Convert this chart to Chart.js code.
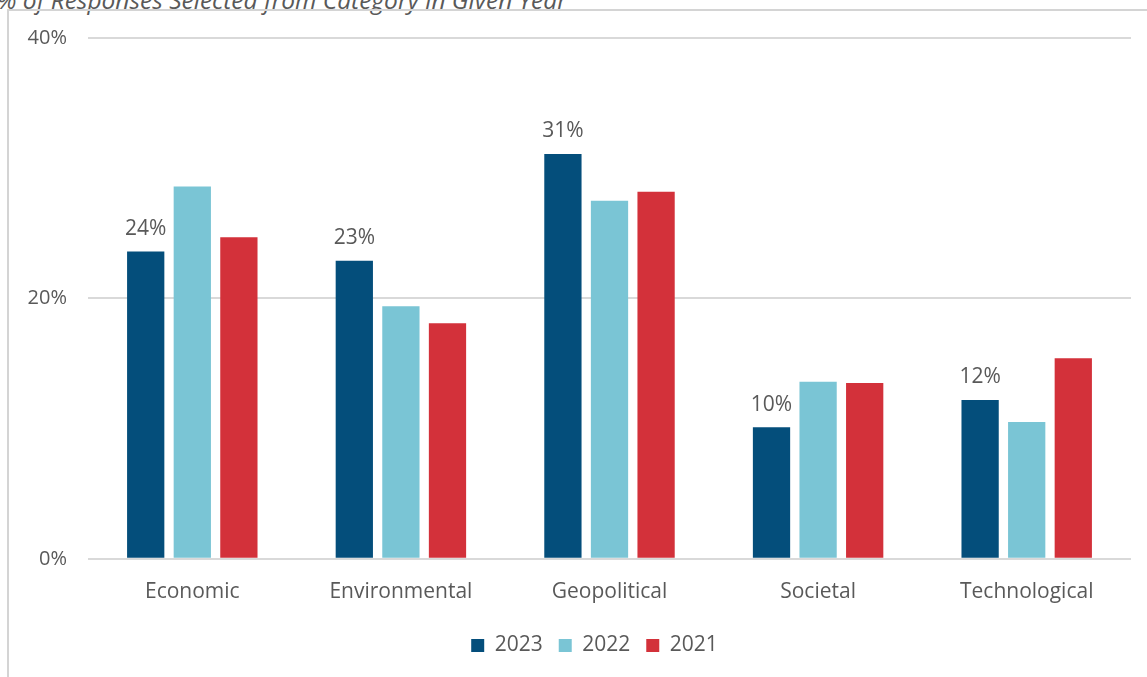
<!DOCTYPE html>
<html>
<head>
<meta charset="utf-8">
<script src="https://cdn.jsdelivr.net/npm/chart.js@4/dist/chart.umd.min.js"></script>
<style>
    body { margin: 0; background: #fff; overflow: hidden; }
    #wrap { position: relative; width: 1147px; height: 677px; }
    #frame { position: absolute; left: 7px; top: 9px; width: 1300px; height: 800px; border: 2px solid #d4d4d4; }
    #subtitle { position: absolute; left: -3px; top: -17px; font: italic 24.5px "Open Sans", sans-serif; color: #595959; white-space: nowrap; }
    #cv { position: absolute; left: 0; top: 0; }
</style>
</head>
<body>
<div id="wrap">
    <div id="subtitle">% of Responses Selected from Category in Given Year</div>
    <div id="frame"></div>
    <canvas id="cv" width="1147" height="677"></canvas>
</div>
<script>
// categories and series (percent of responses)
var categories = ["Economic", "Environmental", "Geopolitical", "Societal", "Technological"];
var years = ["2023", "2022", "2021"];
var values2023 = [23.6, 22.9, 31.1, 10.1, 12.2];
var values2022 = [28.6, 19.4, 27.5, 13.6, 10.5];
var values2021 = [24.7, 18.1, 28.2, 13.5, 15.4];
var labels2023 = ["24%", "23%", "31%", "10%", "12%"];
var yTicks = [0, 20, 40];

var colors = ['#044e7b', '#7ac5d5', '#d3313a'];

// draws the % labels above the 2023 bars
var barLabels = {
    id: 'barLabels',
    afterDatasetsDraw: function (chart) {
        var ctx = chart.ctx;
        var meta = chart.getDatasetMeta(0);
        ctx.save();
        ctx.font = '21px "Open Sans", sans-serif';
        ctx.fillStyle = '#595959';
        ctx.textAlign = 'center';
        ctx.textBaseline = 'bottom';
        meta.data.forEach(function (bar, i) {
            ctx.fillText(labels2023[i], bar.x, bar.y - 12);
        });
        ctx.restore();
    }
};

// nudge the legend a bit right
var moveLegend = {
    id: 'moveLegend',
    afterLayout: function (chart) {
        var lg = chart.legend;
        lg.left += 58;
        lg.top += 1;
        lg.bottom += 1;
    }
};

var ctx = document.getElementById("cv");
var chart = new Chart(ctx, {
    type: 'bar',
    data: {
        labels: categories,
        datasets: [
            { label: years[0], data: values2023, backgroundColor: colors[0] },
            { label: years[1], data: values2022, backgroundColor: colors[1] },
            { label: years[2], data: values2021, backgroundColor: colors[2] }
        ]
    },
    options: {
        responsive: false,
        animation: false,
        layout: { padding: { left: 0, right: 16, top: 38, bottom: 12 } },
        datasets: { bar: { categoryPercentage: 0.67, barPercentage: 0.8 } },
        plugins: {
            legend: {
                position: 'bottom',
                labels: {
                    boxWidth: 13, boxHeight: 13, padding: 16,
                    color: '#595959',
                    font: { family: 'Open Sans', size: 21 }
                }
            },
            tooltip: { enabled: false }
        },
        scales: {
            x: {
                grid: { display: false },
                border: { display: false },
                ticks: { color: '#595959', padding: 13, font: { family: 'Open Sans', size: 21 } }
            },
            y: {
                min: 0, max: 40,
                afterFit: function (scale) { scale.width = 88; },
                afterBuildTicks: function (scale) {
                    scale.ticks = yTicks.map(function (v) { return { value: v }; });
                },
                grid: { color: '#d9d9d9', lineWidth: 2, drawTicks: false },
                border: { display: false },
                ticks: {
                    color: '#595959', padding: 21,
                    font: { family: 'Open Sans', size: 20 },
                    callback: function (v) { return v + '%'; }
                }
            }
        }
    },
    plugins: [barLabels, moveLegend]
});
</script>
</body>
</html>
